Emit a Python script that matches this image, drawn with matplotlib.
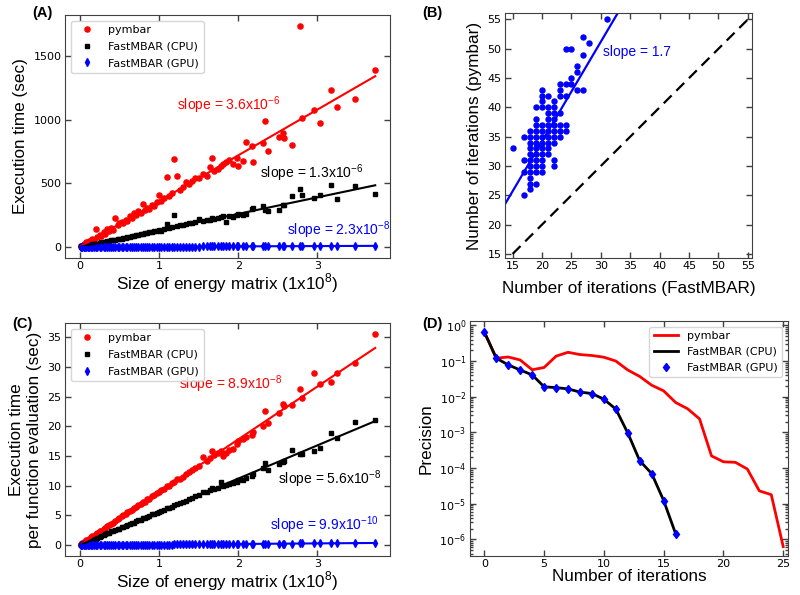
import numpy as np
import matplotlib
matplotlib.use('Agg')
import matplotlib.pyplot as plt

plt.rcParams['font.family'] = ['DejaVu Sans']
plt.rcParams['axes.edgecolor'] = '0.25'

# size of energy matrix (units of 1e8), shared by panels A and C
size = [0.01, 0.02, 0.03, 0.05, 0.06, 0.08, 0.10, 0.12, 0.14, 0.16, 0.18, 0.20, 0.22, 0.25, 0.27,
        0.30, 0.32, 0.35, 0.37, 0.40, 0.42, 0.45, 0.48, 0.50, 0.53, 0.55, 0.58, 0.60, 0.63, 0.66,
        0.68, 0.71, 0.74, 0.77, 0.80, 0.82, 0.85, 0.88, 0.91, 0.94, 0.97, 1.00, 1.03, 1.06, 1.10,
        1.13, 1.16, 1.19, 1.23, 1.26, 1.30, 1.34, 1.38, 1.42, 1.46, 1.50, 1.55, 1.60, 1.64, 1.67,
        1.70, 1.74, 1.78,
        1.81, 1.84, 1.88, 1.93, 1.98, 2.00, 2.06, 2.10, 2.17, 2.19, 2.31, 2.34, 2.37, 2.51, 2.57,
        2.58, 2.68, 2.78, 2.80, 2.96, 3.03, 3.17, 3.25, 3.48, 3.73]

# panel A: total execution time (sec)
time_pymbar = [4, 10, 6, 22, 15, 35, 30, 48, 40, 62, 55, 144, 78, 95, 88,
               120, 105, 140, 125, 150, 135, 225, 170, 185, 200, 190, 215, 205, 240, 225,
               270, 250, 280, 265, 340, 290, 310, 300, 330, 320, 355, 410, 360, 385, 552,
               400, 425, 690, 560, 450, 470, 510, 495, 520, 540, 545, 570, 560, 630, 700,
               600, 615, 640,
               650, 668, 680, 655, 700, 633, 677, 826, 790, 670, 820, 992, 755, 867, 898,
               857, 805, 1737, 1011, 1073, 977, 1231, 1102, 1164, 1388]
time_cpu = [2, 5, 3, 8, 7, 12, 11, 16, 15, 22, 20, 27, 26, 32, 35,
            40, 38, 46, 44, 54, 52, 58, 60, 66, 64, 72, 70, 80, 78, 88,
            85, 95, 92, 100, 105, 108, 110, 116, 118, 122, 128, 132, 128, 140, 180,
            150, 155, 248, 165, 170, 175, 180, 185, 190, 195, 222, 205, 210, 215, 225,
            220, 225, 235,
            240, 200, 245, 238, 250, 258, 255, 262, 300, 310, 325, 290, 285, 287, 326,
            330, 401, 456, 409, 383, 412, 490, 378, 477, 419]
time_gpu = [0.0, 0.1, 0.1, 0.1, 0.1, 0.2, 0.2, 0.3, 0.3, 0.4, 0.4, 0.5, 0.5, 0.6, 0.6,
            0.7, 0.7, 0.8, 0.9, 0.9, 1.0, 1.0, 1.1, 1.2, 1.2, 1.3, 1.3, 1.4, 1.5, 1.5,
            1.6, 1.6, 1.7, 1.8, 1.8, 1.9, 2.0, 2.0, 2.1, 2.2, 2.2, 2.3, 2.4, 2.4, 2.5,
            2.6, 2.7, 2.7, 2.8, 2.9, 3.0, 3.1, 3.2, 3.3, 3.4, 3.5, 3.6, 3.7, 3.8, 3.8,
            3.9, 4.0, 4.1,
            4.2, 4.2, 4.3, 4.4, 4.6, 4.6, 4.7, 4.8, 5.0, 5.0, 5.3, 5.4, 5.5, 5.8, 5.9,
            5.9, 6.2, 6.4, 6.4, 6.8, 7.0, 7.3, 7.5, 8.0, 8.6]
slope_time = [3.6e-6, 1.3e-6, 2.3e-8]

# panel C: execution time per function evaluation (sec)
eval_pymbar = [0.1, 0.2, 0.3, 0.5, 0.5, 0.8, 0.9, 1.1, 1.3, 1.5, 1.6, 1.9, 2.0, 2.3, 2.4,
               2.8, 2.9, 3.2, 3.4, 3.6, 3.8, 4.1, 4.4, 4.5, 4.9, 5.0, 5.2, 5.5, 5.8, 6.0,
               6.3, 6.4, 6.7, 6.9, 7.3, 7.3, 7.7, 7.8, 8.2, 8.5, 8.8, 9.0, 9.2, 9.5, 9.9,
               10.0, 10.4, 10.6, 11.1, 11.2, 11.5, 12.0, 12.3, 12.6, 13.0, 13.3, 14.9, 14.2, 14.6, 15.8,
               15.2, 15.5, 15.9,
               15.0, 15.5, 16.0, 16.2, 17.0, 17.5, 17.8, 18.2, 18.6, 19.0, 20.0, 22.5, 20.5, 22.2, 23.8,
               23.4, 23.6, 26.3, 24.8, 28.9, 27.1, 27.4, 29.0, 30.7, 35.6]
eval_cpu = [0.1, 0.1, 0.2, 0.3, 0.3, 0.4, 0.6, 0.7, 0.8, 0.9, 1.0, 1.1, 1.2, 1.4, 1.5,
            1.7, 1.8, 2.0, 2.1, 2.3, 2.4, 2.5, 2.7, 2.8, 3.0, 3.1, 3.3, 3.4, 3.6, 3.7,
            3.8, 4.0, 4.2, 4.3, 4.5, 4.6, 4.8, 4.9, 5.2, 5.3, 5.4, 5.6, 5.8, 5.9, 6.2,
            6.3, 6.5, 6.7, 6.9, 7.1, 7.3, 7.5, 7.7, 8.0, 8.2, 8.4, 9.0, 9.0, 9.3, 9.6,
            9.5, 9.7, 10.6,
            10.0, 10.2, 10.3, 10.5, 10.6, 10.9, 11.0, 11.3, 11.7, 12.0, 13.0, 13.8, 12.7, 13.6, 14.0,
            14.1, 16.1, 15.3, 15.4, 15.9, 16.4, 18.8, 18.0, 20.7, 21.0]
eval_gpu = [0.00, 0.00, 0.00, 0.00, 0.01, 0.01, 0.01, 0.01, 0.01, 0.02, 0.02, 0.02, 0.02, 0.02, 0.03,
            0.03, 0.03, 0.03, 0.04, 0.04, 0.04, 0.04, 0.05, 0.05, 0.05, 0.05, 0.06, 0.06, 0.06, 0.07,
            0.07, 0.07, 0.07, 0.08, 0.08, 0.08, 0.08, 0.09, 0.09, 0.09, 0.10, 0.10, 0.10, 0.10, 0.11,
            0.11, 0.11, 0.12, 0.12, 0.12, 0.13, 0.13, 0.14, 0.14, 0.14, 0.15, 0.15, 0.16, 0.16, 0.17,
            0.17, 0.17, 0.18,
            0.18, 0.18, 0.19, 0.19, 0.20, 0.20, 0.20, 0.21, 0.21, 0.22, 0.23, 0.23, 0.23, 0.25, 0.25,
            0.26, 0.27, 0.28, 0.28, 0.29, 0.30, 0.31, 0.32, 0.34, 0.37]
slope_eval = [8.9e-8, 5.6e-8, 9.9e-10]

# panel B: number of iterations
iter_fastmbar = ([15] + [17] * 4 + [18] * 11 + [19] * 12 + [20] * 13 + [21] * 10 + [22] * 10
                 + [23] * 7 + [24] * 5 + [25] * 3 + [26] * 3 + [27] * 3 + [28] + [31])
iter_pymbar = ([33]
               + [35, 31, 29, 25]
               + [36, 35, 34, 33, 32, 31, 30, 29, 28, 27, 26]
               + [40, 38, 37, 36, 35, 34, 33, 32, 31, 30, 29, 27]
               + [43, 42, 41, 40, 37, 36, 35, 34, 33, 32, 31, 30, 29]
               + [42, 40, 39, 38, 37, 36, 35, 34, 33, 32]
               + [41, 40, 39, 38, 37, 36, 35, 34, 31, 30]
               + [44, 43, 42, 39, 37, 36, 35]
               + [50, 44, 42, 37, 36]
               + [50, 45, 44]
               + [47, 46, 43]
               + [52, 49, 43]
               + [51]
               + [55])
slope_iter = 1.7
intercept_iter = 0.2

# panel D: convergence
iters_pymbar = list(range(26))
prec_pymbar = [0.65, 0.12, 0.13, 0.107, 0.057, 0.066, 0.137, 0.176, 0.152, 0.143,
               0.128, 0.10, 0.056, 0.037, 0.021, 0.0146, 0.0069, 0.0046, 0.0024, 2.2e-4,
               1.5e-4, 1.45e-4, 9.4e-5, 2.3e-5, 1.8e-5, 6.3e-7]
iters_fast = list(range(17))
prec_cpu = [0.65, 0.12, 0.078, 0.056, 0.041, 0.019, 0.018, 0.0166, 0.0135, 0.0123,
            0.0085, 0.0045, 9.6e-4, 1.6e-4, 7e-5, 1.23e-5, 1.45e-6]
prec_gpu = [0.65, 0.12, 0.078, 0.056, 0.041, 0.019, 0.018, 0.0166, 0.0135, 0.0123,
            0.0085, 0.0045, 9.6e-4, 1.6e-4, 7e-5, 1.23e-5, 1.45e-6]

LABEL_FONT = dict(family='Liberation Sans', fontsize=12.3)
NOTE_FONT = dict(family='Liberation Sans', fontsize=10)


def style_axes(ax):
    ax.tick_params(which='both', direction='in', top=True, right=True, labelsize=8,
                   color='0.25', width=1, pad=2.5)
    ax.tick_params(which='major', length=4)
    ax.tick_params(which='minor', length=2)


def slope_text(v):
    m, e = ('%.1e' % v).split('e')
    return 'slope = %sx10$^{\\mathdefault{%d}}$' % (m, int(e))


fig = plt.figure(figsize=(8, 5.95), dpi=100)

# ---- (A) and (C)
colors = ['red', 'black', 'blue']
names = ['pymbar', 'FastMBAR (CPU)', 'FastMBAR (GPU)']
markers = [('o', 3.7), ('s', 3.5), ('d', 3.8)]
xs = np.array(size)
xfit = np.array([0, max(size)])

panels = [
    ([0.08125, 0.5664, 0.40625, 0.4084], [time_pymbar, time_cpu, time_gpu], slope_time,
     'Execution time (sec)', [(1.23, 1115), (2.27, 576), (2.61, 130)]),
    ([0.08125, 0.066, 0.40625, 0.391], [eval_pymbar, eval_cpu, eval_gpu], slope_eval,
     'Execution time\nper function evaluation (sec)', [(1.25, 27.1), (2.50, 11.1), (2.40, 3.3)]),
]
axes_ac = []
for rect, series, slopes, ylab, notes in panels:
    ax = fig.add_axes(rect)
    for ys, c, n, (mk, ms) in zip(series, colors, names, markers):
        ax.plot(xs, ys, linestyle='none', marker=mk, ms=ms, color=c, label=n)
    for s, c in zip(slopes, colors):
        ax.plot(xfit, s * 1e8 * xfit, color=c, lw=1.5)
    for s, c, (tx, ty) in zip(slopes, colors, notes):
        ax.text(tx, ty, slope_text(s), color=c, ha='left', va='center', **NOTE_FONT)
    ax.set_xticks([0, 1, 2, 3])
    ax.set_xlabel('Size of energy matrix (1x10$^{\\mathdefault{8}}$)', labelpad=0, **LABEL_FONT)
    ax.set_ylabel(ylab, labelpad=4, **LABEL_FONT)
    ax.legend(loc='upper left', fontsize=8, numpoints=1, handlelength=2.2, labelspacing=0.6)
    style_axes(ax)
    axes_ac.append(ax)
axes_ac[0].set_yticks([0, 500, 1000, 1500])
axes_ac[1].set_yticks([0, 5, 10, 15, 20, 25, 30, 35])

# ---- (B)
axb = fig.add_axes([0.63125, 0.5664, 0.30875, 0.4118])
axb.plot(iter_fastmbar, iter_pymbar, linestyle='none', marker='o', ms=3.6, color='blue')
bx = np.array([13.7, 34])
axb.plot(bx, slope_iter * bx + intercept_iter, color='blue', lw=1.6)
axb.plot([15, 55], [15, 55], color='black', ls='--', lw=1.6, dashes=(5, 3))
axb.text(30.3, 49.5, 'slope = 1.7', color='blue', ha='left', va='center', **NOTE_FONT)
axb.set_xlim(13.7, 55.7)
axb.set_ylim(14.3, 56.1)
axb.set_xticks(range(15, 56, 5))
axb.set_yticks(range(15, 56, 5))
axb.set_xlabel('Number of iterations (FastMBAR)', labelpad=7, **LABEL_FONT)
axb.set_ylabel('Number of iterations (pymbar)', labelpad=4, **LABEL_FONT)
style_axes(axb)

# ---- (D)
axd = fig.add_axes([0.5875, 0.066, 0.3975, 0.394])
axd.plot(iters_pymbar, prec_pymbar, color='red', lw=2, label='pymbar')
axd.plot(iters_fast, prec_cpu, color='black', lw=2, label='FastMBAR (CPU)')
axd.plot(iters_fast, prec_gpu, linestyle='none', marker='d', ms=4.5, color='blue',
         label='FastMBAR (GPU)')
axd.set_yscale('log')
axd.set_xlim(-1.2, 25.4)
axd.set_ylim(3.5e-7, 1.3)
axd.set_xticks([0, 5, 10, 15, 20, 25])
axd.set_xlabel('Number of iterations', labelpad=0, **LABEL_FONT)
axd.set_ylabel('Precision', labelpad=4, **LABEL_FONT)
axd.legend(loc='upper right', fontsize=8, numpoints=1, handlelength=2.2)
style_axes(axd)

# panel letters
for x, y, t in [(0.053, 0.99, '(A)'), (0.540, 0.99, '(B)'), (0.028, 0.467, '(C)'), (0.540, 0.467, '(D)')]:
    fig.text(x, y, t, ha='center', va='top', family='Liberation Sans', fontsize=10.5,
             fontweight='bold')

fig.savefig('out.png', dpi=100)
